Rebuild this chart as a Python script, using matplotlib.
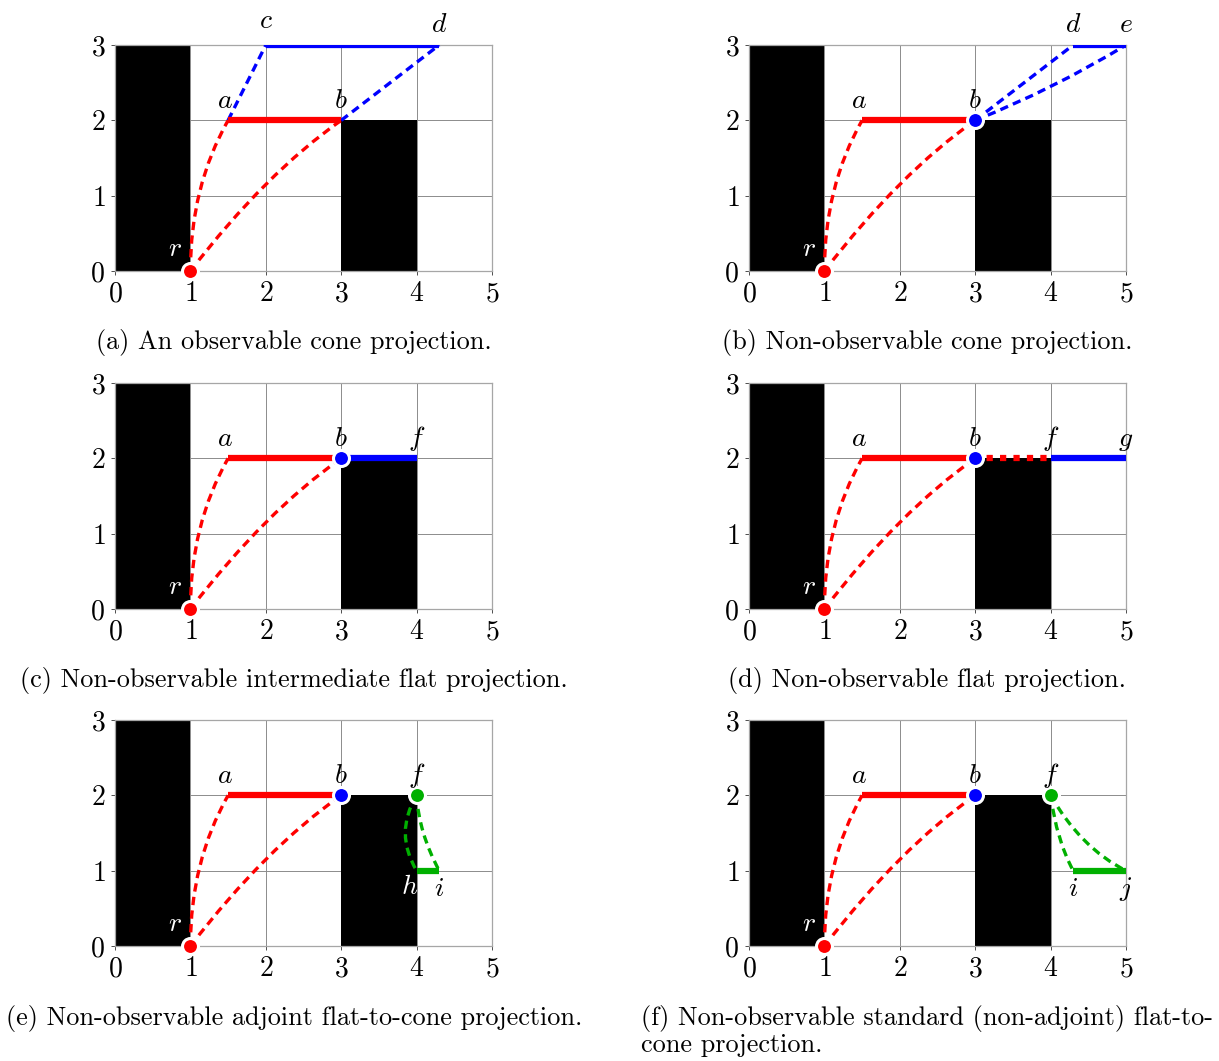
import matplotlib
matplotlib.use('Agg')
import matplotlib.pyplot as plt
from matplotlib.path import Path
from matplotlib.patches import PathPatch, Rectangle

plt.rcParams['font.family'] = 'cmr10'
plt.rcParams['mathtext.fontset'] = 'cm'
plt.rcParams['axes.formatter.use_mathtext'] = True

RED, BLUE, GREEN = '#ff0000', '#0000ff', '#00b000'

# obstacles: x, y, width, height
obstacles = [(0, 0, 1, 3), (3, 0, 1, 2)]

# named points
point_names = ['r', 'a', 'b', 'c', 'd', 'e', 'f', 'g', 'h', 'i', 'j']
point_x = [1, 1.5, 3, 2, 4.3, 5, 4, 5, 4, 4.3, 5]
point_y = [0, 2, 2, 3, 3, 3, 2, 2, 1, 1, 1]
P = {n: (x, y) for n, x, y in zip(point_names, point_x, point_y)}

# dashed paths: start, end, bend point (None = straight), colour
red_cone = [('r', 'a', (1.0, 1.12), RED), ('r', 'b', (2.0, 1.3), RED)]

panels = [
    dict(caption=['(a) An observable cone projection.'],
         dashed=red_cone + [('a', 'c', None, BLUE), ('b', 'd', None, BLUE)],
         solid=[('a', 'b', RED), ('c', 'd', BLUE)],
         dotted=[],
         dots=[('r', RED)],
         labels=['r', 'a', 'b', 'c', 'd']),
    dict(caption=['(b) Non-observable cone projection.'],
         dashed=red_cone + [('b', 'd', None, BLUE), ('b', 'e', (4.05, 2.42), BLUE)],
         solid=[('a', 'b', RED), ('d', 'e', BLUE)],
         dotted=[],
         dots=[('r', RED), ('b', BLUE)],
         labels=['r', 'a', 'b', 'd', 'e']),
    dict(caption=['(c) Non-observable intermediate flat projection.'],
         dashed=red_cone,
         solid=[('a', 'b', RED), ('b', 'f', BLUE)],
         dotted=[],
         dots=[('r', RED), ('b', BLUE)],
         labels=['r', 'a', 'b', 'f']),
    dict(caption=['(d) Non-observable flat projection.'],
         dashed=red_cone,
         solid=[('a', 'b', RED), ('f', 'g', BLUE)],
         dotted=[('b', 'f', RED)],
         dots=[('r', RED), ('b', BLUE)],
         labels=['r', 'a', 'b', 'f', 'g']),
    dict(caption=['(e) Non-observable adjoint flat-to-cone projection.'],
         dashed=red_cone + [('f', 'h', (3.7, 1.5), GREEN), ('f', 'i', (4.03, 1.5), GREEN)],
         solid=[('a', 'b', RED), ('h', 'i', GREEN)],
         dotted=[],
         dots=[('r', RED), ('b', BLUE), ('f', GREEN)],
         labels=['r', 'a', 'b', 'f', 'h', 'i']),
    dict(caption=['(f) Non-observable standard (non-adjoint) flat-to-', 'cone projection.'],
         dashed=red_cone + [('f', 'i', (4.08, 1.4), GREEN), ('f', 'j', (4.4, 1.3), GREEN)],
         solid=[('a', 'b', RED), ('i', 'j', GREEN)],
         dotted=[],
         dots=[('r', RED), ('b', BLUE), ('f', GREEN)],
         labels=['r', 'a', 'b', 'f', 'i', 'j']),
]

# label placement: offset in points, colour
label_style = {
    'r': ((-11, 11), 'white'),
    'h': ((-5, -17), 'white'),
    'i': ((0, -18), 'black'),
    'j': ((0, -18), 'black'),
    'a': ((-2, 9), 'black'),
    'c': ((0, 12), 'black'),
}

FS = 20
CAP_FS = 18.9

W, H = 1219, 1061
fig = plt.figure(figsize=(W / 100, H / 100), dpi=100)

col_left = [115, 749]
row_top = [45, 383, 720]
ax_w, ax_h = 377, 226
cap_x = [294, 927]
cap_y = [343, 681, 1018]

for k, pan in enumerate(panels):
    row, col = divmod(k, 2)
    ax = fig.add_axes([col_left[col] / W, 1 - (row_top[row] + ax_h) / H, ax_w / W, ax_h / H])
    ax.set_xlim(0, 5)
    ax.set_ylim(0, 3)
    ax.set_xticks(range(6))
    ax.set_yticks(range(4))
    ax.grid(True, color='0.55', lw=0.7)
    ax.set_axisbelow(True)
    for sp in ax.spines.values():
        sp.set_color('0.65')
        sp.set_linewidth(0.9)
    ax.tick_params(labelsize=FS, length=3, width=0.7, color='0.3', pad=4)

    for (x, y, w, h) in obstacles:
        ax.add_patch(Rectangle((x, y), w, h, facecolor='black', edgecolor='none', zorder=1.5))

    for s, e, ctrl, colr in pan['dashed']:
        p0, p2 = P[s], P[e]
        if ctrl is None:
            ctrl = ((p0[0] + p2[0]) / 2, (p0[1] + p2[1]) / 2)
        path = Path([p0, ctrl, p2], [Path.MOVETO, Path.CURVE3, Path.CURVE3])
        ax.add_patch(PathPatch(path, facecolor='none', edgecolor=colr, lw=2.4,
                               linestyle=(0, (2.5, 1.6)), capstyle='butt', zorder=3))

    for s, e, colr in pan['solid']:
        ax.plot([P[s][0], P[e][0]], [P[s][1], P[e][1]], color=colr, lw=4.5,
                solid_capstyle='butt', zorder=3.5)

    for s, e, colr in pan['dotted']:
        ax.plot([P[s][0], P[e][0]], [P[s][1], P[e][1]], color=colr, lw=4.5,
                linestyle=(0.3, (1.0, 1.15)), dash_capstyle='butt', zorder=3.5)

    for n, colr in pan['dots']:
        ax.plot(*P[n], 'o', ms=11.5, mfc=colr, mec='white', mew=2.2, zorder=5, clip_on=False)

    for n in pan['labels']:
        off, tc = label_style.get(n, ((0, 9), 'black'))
        ax.annotate(f'${n}$', P[n], xytext=off, textcoords='offset points',
                    ha='center', va='baseline', fontsize=FS, color=tc, zorder=6,
                    annotation_clip=False)

    if len(pan['caption']) == 2:
        for m, line in enumerate(pan['caption']):
            fig.text(641 / W, 1 - (1018 + 27 * m) / H, line, ha='left', va='center',
                     fontsize=CAP_FS)
    else:
        fig.text(cap_x[col] / W, 1 - cap_y[row] / H, pan['caption'][0], ha='center',
                 va='center', fontsize=CAP_FS)

fig.savefig('out.png', dpi=100)
